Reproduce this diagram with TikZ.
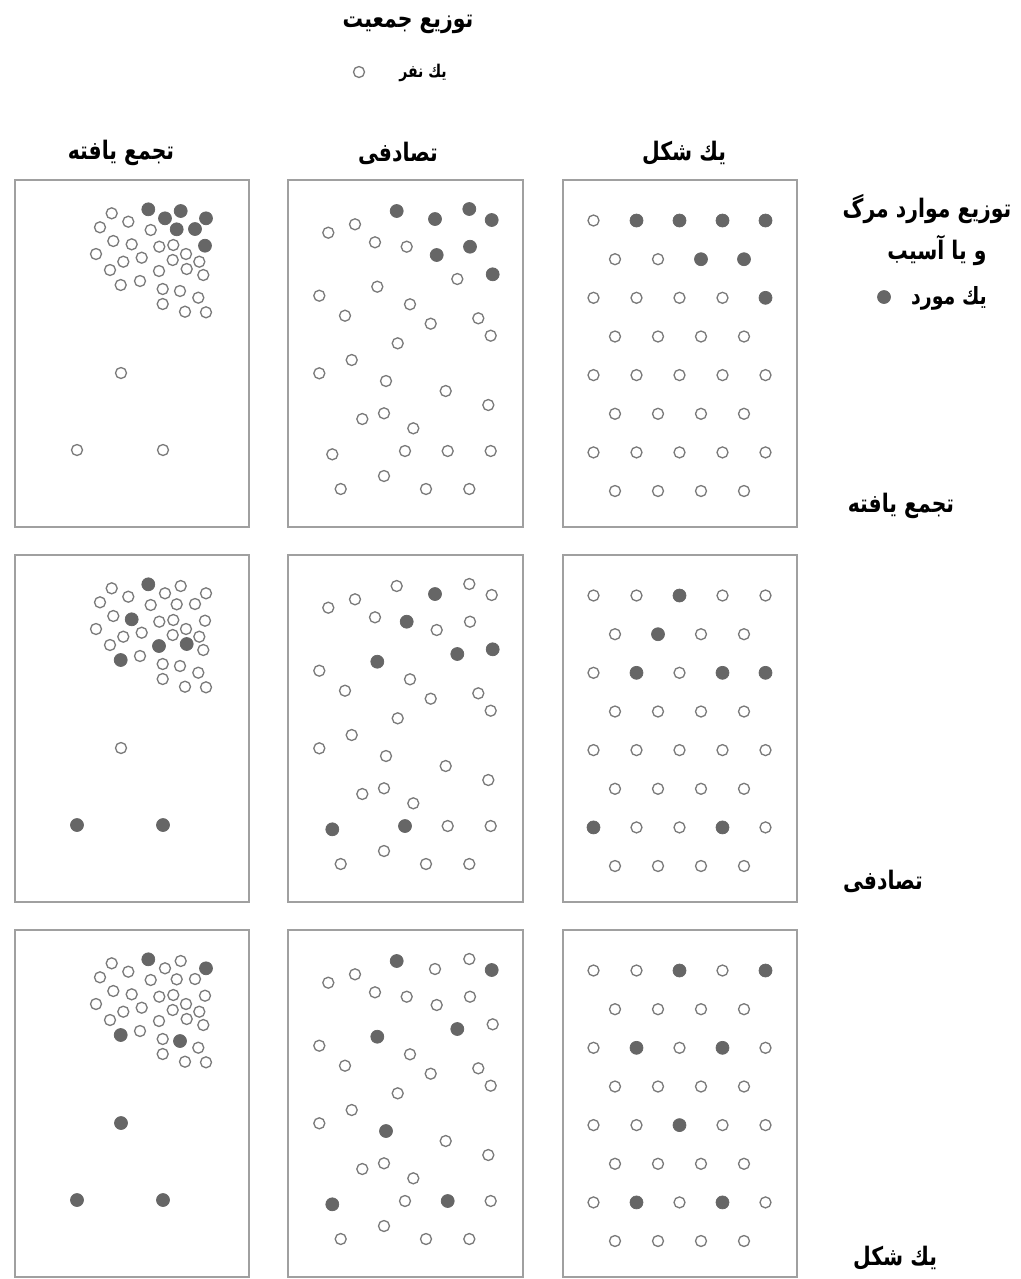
\documentclass[tikz,border=0pt]{standalone}
\usepackage{fontspec}
\usepackage{xcolor}
\usepackage{tikz}
\newfontfamily\arfont[Script=Arabic, FakeStretch=0.8]{DejaVu Sans}
\TeXXeTstate=1
\definecolor{dotgray}{HTML}{666666}
\definecolor{ringgray}{HTML}{7A7A7A}
\definecolor{framegray}{HTML}{A0A0A0}
\tikzset{
  person/.style={circle, draw=ringgray, line width=0.75pt, minimum size=0.22cm, inner sep=0pt},
  case/.style={circle, fill=dotgray, draw=dotgray, line width=0.4pt, minimum size=0.26cm, inner sep=0pt},
  panel/.style={draw=framegray, line width=0.6pt},
  heading/.style={font=\arfont\bfseries\fontsize{14.5}{17}\selectfont, inner sep=0pt},
  legend/.style={font=\arfont\bfseries\fontsize{10}{12}\selectfont, inner sep=0pt},
  biglegend/.style={font=\arfont\bfseries\fontsize{13.5}{16}\selectfont, inner sep=0pt},
}
\def\rowb{375}
\def\rowc{750}
\def\clusterdots{111.7/213.3, 148.3/209.3, 180.7/211, 100/227.3, 128.3/221.7,
  165/218.3, 206/218.3, 150.7/230, 176.7/229.3, 195/229, 113.3/241, 131.7/244.3,
  159.3/246.7, 173.3/245, 205/245.7, 96/254, 186/254, 141.7/257.7, 123.3/261.7,
  172.7/260, 199.3/261.7, 110/270, 159/271, 186.7/269, 203.3/275, 120.7/285,
  140/281, 162.7/289, 180/291, 198.3/297.7, 162.7/304, 185/311.7, 206/312.3,
  121/373, 77/450, 163/450}
\def\randomdots{396.7/211, 435/219, 469.3/209, 491.7/220, 355/224.3, 328.3/232.7,
  375/242.3, 406.7/246.7, 436.7/255, 470/246.7, 492.7/274.3, 457.3/279,
  377.3/286.7, 319.3/295.7, 410/304.3, 345/315.7, 430.7/323.7, 478.3/318.3,
  490.7/335.7, 397.7/343.3, 351.7/360, 319.3/373.3, 386/381, 445.7/391,
  488.3/405, 362.3/419, 384/413.3, 413.3/428.3, 332.3/454.3, 405/451,
  447.7/451, 490.7/451, 384/476, 340.7/489, 426/489, 469.3/489}
\def\uniformdots{593.5/220.5, 636.5/220.5, 679.5/220.5, 722.5/220.5, 765.5/220.5,
  615/259.2, 658/259.2, 701/259.2, 744/259.2,
  593.5/297.8, 636.5/297.8, 679.5/297.8, 722.5/297.8, 765.5/297.8,
  615/336.5, 658/336.5, 701/336.5, 744/336.5,
  593.5/375.1, 636.5/375.1, 679.5/375.1, 722.5/375.1, 765.5/375.1,
  615/413.8, 658/413.8, 701/413.8, 744/413.8,
  593.5/452.4, 636.5/452.4, 679.5/452.4, 722.5/452.4, 765.5/452.4,
  615/491, 658/491, 701/491, 744/491}
\newcommand\placedots[3]{%
  \foreach \x/\y [count=\i] in #1
    \node[person] (#2-\i) at (\x,\y+#3) {};
}

\begin{document}
\begin{tikzpicture}[x=0.02cm, y=-0.02cm]
  \useasboundingbox (0,0) rectangle (1021,1279);

  \node[heading] (title) at (408,24) {\beginR توزیع جمعیت\endR};
  \node[legend] (onep) at (423,73) {\beginR یك نفر\endR};
  \node[person] (onepdot) at (359,72) {};

  \node[heading] (hclu) at (121,153) {\beginR تجمع یافته\endR};
  \node[heading] (hran) at (398,153) {\beginR تصادفى\endR};
  \node[heading] (huni) at (684,153) {\beginR یك شكل\endR};

  \node[heading] (death) at (927,209) {\beginR توزیع موارد مرگ\endR};
  \node[heading] (injury) at (937,250) {\beginR و یا آسیب\endR};
  \node[biglegend] (onec) at (949,298) {\beginR یك مورد\endR};
  \node[case] (onecdot) at (884,297) {};

  \node[heading] (lclu) at (901,506) {\beginR تجمع یافته\endR};
  \node[heading] (lran) at (883,881) {\beginR تصادفى\endR};
  \node[heading] (luni) at (895,1258) {\beginR یك شكل\endR};

  \foreach \dy in {0,\rowb,\rowc} {
    \draw[panel] (15,180+\dy) rectangle (249,527+\dy);
    \draw[panel] (288,180+\dy) rectangle (523,527+\dy);
    \draw[panel] (563,180+\dy) rectangle (797,527+\dy);
  }

  \placedots{\clusterdots}{cl1}{0}
  \placedots{\clusterdots}{cl2}{\rowb}
  \placedots{\clusterdots}{cl3}{\rowc}
  \placedots{\randomdots}{ra1}{0}
  \placedots{\randomdots}{ra2}{\rowb}
  \placedots{\randomdots}{ra3}{\rowc}
  \placedots{\uniformdots}{un1}{0}
  \placedots{\uniformdots}{un2}{\rowb}
  \placedots{\uniformdots}{un3}{\rowc}

  \foreach \i in {2,3,6,7,9,10,15} \node[case] (cl1-\i-d) at (cl1-\i) {};
  \foreach \i in {2,12,23,24,26,35,36} \node[case] (cl2-\i-d) at (cl2-\i) {};
  \foreach \i in {2,7,26,29,34,35,36} \node[case] (cl3-\i-d) at (cl3-\i) {};
  \foreach \i in {1,2,3,4,9,10,11} \node[case] (ra1-\i-d) at (ra1-\i) {};
  \foreach \i in {2,8,11,12,13,29,30} \node[case] (ra2-\i-d) at (ra2-\i) {};
  \foreach \i in {1,4,12,13,23,29,31} \node[case] (ra3-\i-d) at (ra3-\i) {};
  \foreach \i in {2,3,4,5,8,9,14} \node[case] (un1-\i-d) at (un1-\i) {};
  \foreach \i in {3,7,11,13,14,28,31} \node[case] (un2-\i-d) at (un2-\i) {};
  \foreach \i in {3,5,11,13,21,29,31} \node[case] (un3-\i-d) at (un3-\i) {};
\end{tikzpicture}
\end{document}
